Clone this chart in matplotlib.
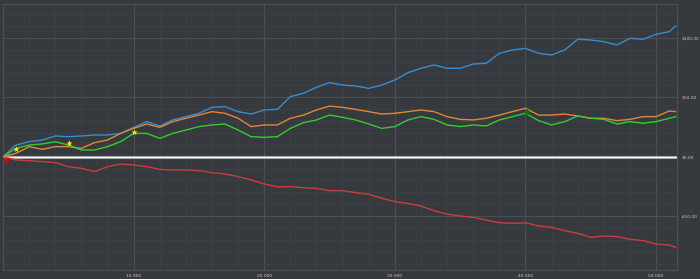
import matplotlib
matplotlib.use("Agg")
import matplotlib.pyplot as plt
from matplotlib.ticker import FuncFormatter, MultipleLocator

# trade index (x) and cumulative P/L per series
trades = list(range(0, 51001, 1000)) + [51500]

blue = [0, 9.8, 12.6, 14, 17.4, 16.8, 17.4, 18.2, 18.2, 19.6,
        24.7, 29.5, 25.8, 30.9, 33.7, 36.5, 41.5, 42.1, 37.9, 35.9,
        39.3, 39.8, 50.5, 53.3, 58.4, 62.3, 60.3, 59.5, 57.5, 60.3,
        64.5, 70.7, 74.4, 77.2, 74.4, 74.4, 78, 78.6, 87, 89.8,
        91.2, 87, 85.6, 89.8, 98.8, 98.2, 96.8, 94, 99.6, 98.8,
        103, 105.2, 110]
orange = [0, 2.8, 8.4, 6.2, 8.4, 8.4, 7, 11.8, 14, 19.6,
          23.8, 27.5, 24.7, 29.5, 32.3, 35, 37.9, 36.5, 32.3, 25.3,
          26.7, 26.7, 32.3, 35, 39.3, 42.6, 41.5, 39.8, 37.9, 35.9,
          36.5, 37.9, 39.3, 37.9, 33.7, 31.4, 30.9, 32.3, 35, 37.9,
          40.7, 35, 35, 35.9, 34.2, 32.3, 32.3, 30.3, 31.4, 33.7,
          33.7, 38.4, 37.9]
green = [0, 7, 9.8, 10.7, 12.6, 9.8, 5.6, 5.6, 8.4, 12.6,
         19.6, 19.6, 15.4, 19.6, 22.4, 25.3, 26.7, 27.5, 22.4, 16.8,
         16.3, 16.8, 23.8, 28.6, 30.9, 35, 33.1, 30.9, 27.5, 23.8,
         25.3, 30.9, 33.7, 31.4, 26.7, 25.3, 26.7, 25.8, 30.9, 33.7,
         36.5, 30.3, 26.7, 29.5, 34.2, 32.3, 31.4, 27.5, 29.5, 28.1,
         29.5, 32.3, 33.7]
red = [0, -2.8, -3.4, -4.2, -5, -8.4, -9.8, -12.6, -8.4, -6.2,
       -7, -8.4, -10.7, -11.2, -11.2, -11.8, -13.5, -14.6, -16.8, -19.6,
       -23, -25.3, -25.3, -26.1, -26.7, -28.6, -28.6, -30.3, -31.7, -35,
       -37.9, -39.3, -41.5, -45.5, -48.3, -49.9, -51.1, -53.3, -55.6, -56.1,
       -55.6, -58.4, -59.5, -62.3, -64.5, -67.9, -66.8, -67.3, -69.6, -70.7,
       -73.5, -74.4, -76.3]

star_x = [1030, 5030, 10030]
star_y = [6.6, 11.2, 20.7]
start_x, start_y = [210], [-3.6]
peak_x, peak_y = [40100], [38.5]

BG = "#36393d"


def main() -> None:
    fig = plt.figure(figsize=(7.0, 2.79), dpi=100)
    fig.patch.set_facecolor(BG)
    ax = fig.add_axes([3 / 700, 9 / 279, 674 / 700, 266 / 279])
    ax.set_facecolor(BG)

    ax.set_xlim(0, 51600)
    ax.set_ylim(-95.4, 128.5)

    ax.xaxis.set_major_locator(MultipleLocator(10000))
    ax.xaxis.set_minor_locator(MultipleLocator(2000))
    ax.yaxis.set_major_locator(MultipleLocator(50))
    ax.yaxis.set_minor_locator(MultipleLocator(10))
    ax.grid(which="major", color="#4b4e53", linewidth=0.8)
    ax.grid(which="minor", color="#3e4145", linewidth=0.6)
    ax.set_axisbelow(True)

    # zero line: grey halo with a thin white core
    ax.axhline(0, color="#9a9a9a", linewidth=2.2, zorder=2)
    ax.axhline(0, color="#f4f4f4", linewidth=1.0, zorder=2)

    ax.plot(trades, red, color="#cc3d3d", linewidth=1.0, zorder=3)
    ax.plot(trades, blue, color="#3a8ccc", linewidth=1.0, zorder=3)
    ax.plot(trades, orange, color="#e0873a", linewidth=1.0, zorder=3)
    ax.plot(trades, green, color="#33cc33", linewidth=1.0, zorder=3)

    ax.scatter(star_x, star_y, marker="*", s=22, color="#ffee00", zorder=5, linewidths=0)
    ax.scatter(start_x, start_y, marker="v", s=22, color="#e00000", zorder=5, linewidths=0)
    ax.scatter(peak_x, peak_y, marker="^", s=22, color="#0b7a0b", zorder=5, linewidths=0)

    ax.yaxis.tick_right()
    ax.tick_params(axis="both", which="both", length=0, colors="#c8c8c8", labelsize=3.2, pad=3)
    ax.xaxis.set_major_formatter(FuncFormatter(lambda v, p: "" if v <= 0 else f"{int(v):,}".replace(",", " ")))

    def money(v, p):
        s = f"${abs(v):.2f}".replace(".", ",")
        return "-" + s if v < 0 else s

    ax.yaxis.set_major_formatter(FuncFormatter(money))
    for lab in ax.get_xticklabels() + ax.get_yticklabels():
        lab.set_family(["Liberation Sans Narrow", "DejaVu Sans"])

    for sp in ax.spines.values():
        sp.set_color("#4b4e53")
        sp.set_linewidth(0.8)

    fig.savefig("out.png", dpi=100, facecolor=BG)
    plt.close(fig)


if __name__ == "__main__":
    main()
